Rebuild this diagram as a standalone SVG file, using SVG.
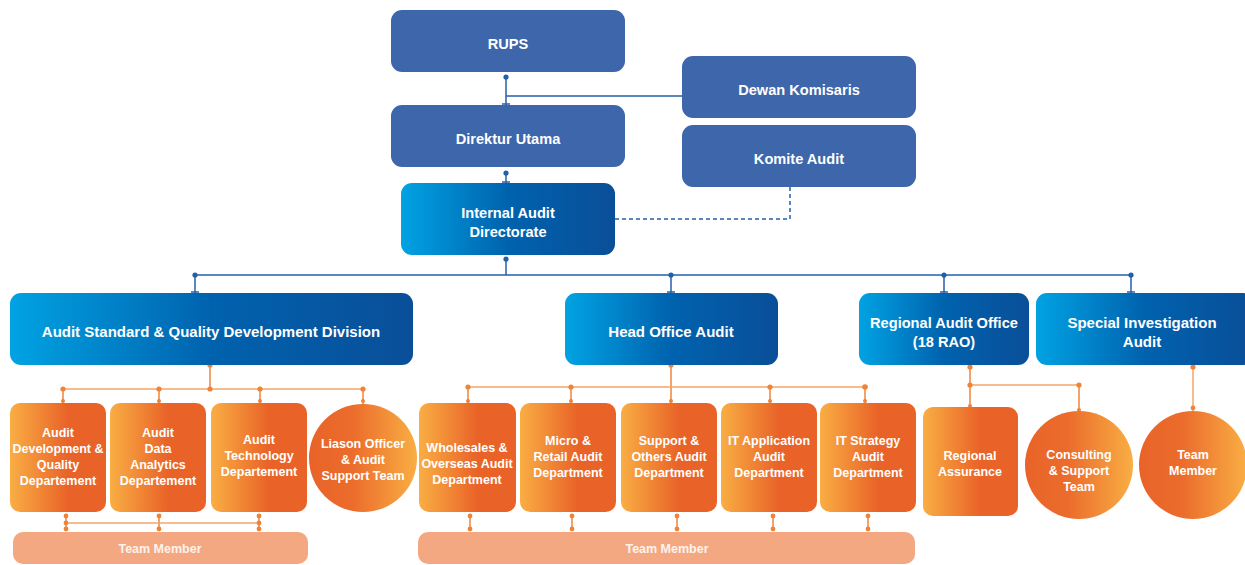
<svg xmlns="http://www.w3.org/2000/svg" width="1245" height="565" viewBox="0 0 1245 565">
<defs>
<linearGradient id="gBlue" x1="0" y1="0" x2="1" y2="0">
<stop offset="0" stop-color="#00A3E3"/><stop offset="0.5" stop-color="#0062AE"/><stop offset="1" stop-color="#0A4E98"/>
</linearGradient>
<linearGradient id="gOrg" x1="0" y1="0" x2="1" y2="0">
<stop offset="0" stop-color="#F9AE44"/><stop offset="0.6" stop-color="#E96328"/><stop offset="1" stop-color="#E96328"/>
</linearGradient>
<linearGradient id="gCirc" x1="0" y1="0" x2="1" y2="0">
<stop offset="0" stop-color="#E96328"/><stop offset="0.4" stop-color="#EB6C2C"/><stop offset="1" stop-color="#F9AE44"/>
</linearGradient>
<style>
.top{fill:#3E66AA}
.div{fill:url(#gBlue)}
.dep{fill:url(#gOrg)}
.cir{fill:url(#gCirc)}
.bar{fill:#F3A882}
text{font-family:"Liberation Sans",Arial,sans-serif;font-weight:bold;fill:#fff;text-anchor:middle}
.t14{font-size:14.6px}
.t15{font-size:15px}
.t12{font-size:12.5px}
.tb{font-size:12.5px;fill:#FDF3EC}
.bl{stroke:#235FA8;stroke-width:1.5;fill:none}
.or{stroke:#EF8438;stroke-width:1.5;fill:none}
.orl{stroke:#F5A566;stroke-width:1.5;fill:none}
.dash{stroke:#235FA8;stroke-width:1.5;fill:none;stroke-dasharray:4 3}
.bd{fill:#235FA8}
.od{fill:#EF8438}
</style>
</defs>

<g id="connectors">
<line class="bl" x1="506" y1="77" x2="506" y2="105"/>
<line class="bl" x1="506" y1="96" x2="682" y2="96"/>
<line class="bl" x1="502" y1="104" x2="510" y2="104"/>
<circle class="bd" cx="506" cy="77" r="2.6"/>
<line class="bl" x1="506" y1="173" x2="506" y2="183"/>
<line class="bl" x1="502" y1="182" x2="510" y2="182"/>
<circle class="bd" cx="506" cy="173" r="2.6"/>
<polyline class="dash" points="615,219 790,219 790,187"/>
<line class="bl" x1="506" y1="259" x2="506" y2="275"/>
<circle class="bd" cx="506" cy="259" r="2.6"/>
<line class="bl" x1="195" y1="275" x2="1131" y2="275"/>
<line class="bl" x1="195" y1="275" x2="195" y2="293"/>
<line class="bl" x1="671" y1="275" x2="671" y2="293"/>
<line class="bl" x1="944" y1="275" x2="944" y2="293"/>
<line class="bl" x1="1131" y1="275" x2="1131" y2="293"/>
<line class="bl" x1="191" y1="292" x2="199" y2="292"/>
<line class="bl" x1="667" y1="292" x2="675" y2="292"/>
<line class="bl" x1="940" y1="292" x2="948" y2="292"/>
<line class="bl" x1="1127" y1="292" x2="1135" y2="292"/>
<circle class="bd" cx="195" cy="275" r="2.6"/>
<circle class="bd" cx="671" cy="275" r="2.6"/>
<circle class="bd" cx="944" cy="275" r="2.6"/>
<circle class="bd" cx="1131" cy="275" r="2.6"/>

<line class="or" x1="210" y1="365" x2="210" y2="389"/>
<line class="orl" x1="63" y1="389" x2="363" y2="389"/>
<line class="or" x1="63" y1="389" x2="63" y2="403"/>
<line class="or" x1="159" y1="389" x2="159" y2="403"/>
<line class="or" x1="260" y1="389" x2="260" y2="403"/>
<line class="or" x1="363" y1="389" x2="363" y2="404"/>
<circle class="od" cx="210" cy="365" r="2.6"/><circle class="od" cx="210" cy="389" r="2.6"/>
<circle class="od" cx="63" cy="389" r="2.6"/><circle class="od" cx="159" cy="389" r="2.6"/>
<circle class="od" cx="260" cy="389" r="2.6"/><circle class="od" cx="363" cy="389" r="2.6"/>
<circle class="od" cx="63" cy="401" r="2"/><circle class="od" cx="159" cy="401" r="2"/>
<circle class="od" cx="260" cy="401" r="2"/><circle class="od" cx="363" cy="401" r="2"/>
<line class="or" x1="66" y1="516" x2="66" y2="530"/>
<line class="or" x1="159" y1="516" x2="159" y2="530"/>
<line class="or" x1="259" y1="516" x2="259" y2="530"/>
<line class="orl" x1="66" y1="523" x2="259" y2="523"/>
<circle class="od" cx="66" cy="516" r="2.4"/><circle class="od" cx="66" cy="523" r="2.4"/><circle class="od" cx="66" cy="529" r="2.4"/>
<circle class="od" cx="159" cy="516" r="2.4"/><circle class="od" cx="159" cy="529" r="2.4"/>
<circle class="od" cx="259" cy="516" r="2.4"/><circle class="od" cx="259" cy="523" r="2.4"/><circle class="od" cx="259" cy="529" r="2.4"/>

<line class="or" x1="671" y1="365" x2="671" y2="403"/>
<line class="orl" x1="468" y1="387" x2="865" y2="387"/>
<line class="or" x1="468" y1="387" x2="468" y2="403"/>
<line class="or" x1="571" y1="387" x2="571" y2="403"/>
<line class="or" x1="770" y1="387" x2="770" y2="403"/>
<line class="or" x1="865" y1="387" x2="865" y2="403"/>
<circle class="od" cx="671" cy="365" r="2.6"/>
<circle class="od" cx="468" cy="387" r="2.6"/><circle class="od" cx="571" cy="387" r="2.6"/>
<circle class="od" cx="770" cy="387" r="2.6"/><circle class="od" cx="865" cy="387" r="2.8"/>
<circle class="od" cx="468" cy="401" r="2"/><circle class="od" cx="571" cy="401" r="2"/>
<circle class="od" cx="671" cy="401" r="2"/><circle class="od" cx="770" cy="401" r="2"/><circle class="od" cx="865" cy="401" r="2"/>
<line class="or" x1="470" y1="516" x2="470" y2="530"/>
<line class="or" x1="572" y1="516" x2="572" y2="530"/>
<line class="or" x1="677" y1="516" x2="677" y2="530"/>
<line class="or" x1="773" y1="516" x2="773" y2="530"/>
<line class="or" x1="868" y1="516" x2="868" y2="530"/>
<circle class="od" cx="470" cy="516" r="2.4"/><circle class="od" cx="470" cy="529" r="2.4"/>
<circle class="od" cx="572" cy="516" r="2.4"/><circle class="od" cx="572" cy="529" r="2.4"/>
<circle class="od" cx="677" cy="516" r="2.4"/><circle class="od" cx="677" cy="529" r="2.4"/>
<circle class="od" cx="773" cy="516" r="2.4"/><circle class="od" cx="773" cy="529" r="2.4"/>
<circle class="od" cx="868" cy="516" r="2.4"/><circle class="od" cx="868" cy="529" r="2.4"/>

<line class="or" x1="970" y1="367" x2="970" y2="407"/>
<line class="orl" x1="970" y1="385" x2="1079" y2="385"/>
<line class="or" x1="1079" y1="385" x2="1079" y2="411"/>
<circle class="od" cx="970" cy="367" r="2.6"/><circle class="od" cx="970" cy="385" r="2.6"/>
<circle class="od" cx="1079" cy="385" r="2.6"/>
<circle class="od" cx="970" cy="406" r="2"/><circle class="od" cx="1079" cy="410" r="2"/>

<line class="orl" x1="1193" y1="367" x2="1193" y2="411"/>
<circle class="od" cx="1193" cy="367" r="2.6"/><circle class="od" cx="1193" cy="408" r="2.4"/>
</g>

<g id="rups"><rect class="top" x="391" y="10" width="234" height="62" rx="11"/><text class="t14" x="508" y="49">RUPS</text></g>
<g id="dewan-komisaris"><rect class="top" x="682" y="56" width="234" height="62" rx="11"/><text class="t14" x="799" y="95">Dewan Komisaris</text></g>
<g id="direktur-utama"><rect class="top" x="391" y="105" width="234" height="62" rx="11"/><text class="t14" x="508" y="144">Direktur Utama</text></g>
<g id="komite-audit"><rect class="top" x="682" y="125" width="234" height="62" rx="11"/><text class="t14" x="799" y="164">Komite Audit</text></g>
<g id="internal-audit-directorate"><rect class="div" x="401" y="183" width="214" height="72" rx="11"/><text class="t14" x="508" y="218">Internal Audit</text><text class="t14" x="508" y="237">Directorate</text></g>

<g id="audit-standard"><rect class="div" x="10" y="293" width="403" height="72" rx="11"/><text class="t15" x="211" y="337">Audit Standard &amp; Quality Development Division</text></g>
<g id="head-office-audit"><rect class="div" x="565" y="293" width="213" height="72" rx="11"/><text class="t15" x="671" y="337">Head Office Audit</text></g>
<g id="regional-audit-office"><rect class="div" x="859" y="293" width="170" height="72" rx="11"/><text class="t14" x="944" y="328">Regional Audit Office</text><text class="t14" x="944" y="347">(18 RAO)</text></g>
<g id="special-investigation"><rect class="div" x="1036" y="293" width="218" height="72" rx="11"/><text class="t15" x="1142" y="328">Special Investigation</text><text class="t15" x="1142" y="347">Audit</text></g>

<g id="audit-dev-quality"><rect class="dep" x="10" y="403" width="96" height="109" rx="10"/><text class="t12" x="58"><tspan x="58" y="437">Audit</tspan><tspan x="58" y="453">Development &amp;</tspan><tspan x="58" y="469">Quality</tspan><tspan x="58" y="485">Departement</tspan></text></g>
<g id="audit-data-analytics"><rect class="dep" x="110" y="403" width="96" height="109" rx="10"/><text class="t12" x="158"><tspan x="158" y="437">Audit</tspan><tspan x="158" y="453">Data</tspan><tspan x="158" y="469">Analytics</tspan><tspan x="158" y="485">Departement</tspan></text></g>
<g id="audit-technology"><rect class="dep" x="211" y="403" width="96" height="109" rx="10"/><text class="t12" x="259"><tspan x="259" y="444">Audit</tspan><tspan x="259" y="460">Technology</tspan><tspan x="259" y="476">Departement</tspan></text></g>
<g id="liason-officer"><circle class="cir" cx="363" cy="458" r="54"/><text class="t12" x="363"><tspan x="363" y="448">Liason Officer</tspan><tspan x="363" y="464">&amp; Audit</tspan><tspan x="363" y="480">Support Team</tspan></text></g>
<g id="team-member-1"><rect class="bar" x="13" y="532" width="295" height="32" rx="10"/><text class="tb" x="160" y="553">Team Member</text></g>

<g id="wholesales"><rect class="dep" x="419" y="403" width="97" height="109" rx="10"/><text class="t12" x="467"><tspan x="467" y="452">Wholesales &amp;</tspan><tspan x="467" y="468">Overseas Audit</tspan><tspan x="467" y="484">Department</tspan></text></g>
<g id="micro-retail"><rect class="dep" x="520" y="403" width="96" height="109" rx="10"/><text class="t12" x="568"><tspan x="568" y="445">Micro &amp;</tspan><tspan x="568" y="461">Retail Audit</tspan><tspan x="568" y="477">Department</tspan></text></g>
<g id="support-others"><rect class="dep" x="621" y="403" width="96" height="109" rx="10"/><text class="t12" x="669"><tspan x="669" y="445">Support &amp;</tspan><tspan x="669" y="461">Others Audit</tspan><tspan x="669" y="477">Department</tspan></text></g>
<g id="it-application"><rect class="dep" x="721" y="403" width="96" height="109" rx="10"/><text class="t12" x="769"><tspan x="769" y="445">IT Application</tspan><tspan x="769" y="461">Audit</tspan><tspan x="769" y="477">Department</tspan></text></g>
<g id="it-strategy"><rect class="dep" x="820" y="403" width="96" height="109" rx="10"/><text class="t12" x="868"><tspan x="868" y="445">IT Strategy</tspan><tspan x="868" y="461">Audit</tspan><tspan x="868" y="477">Department</tspan></text></g>
<g id="team-member-2"><rect class="bar" x="418" y="532" width="497" height="32" rx="10"/><text class="tb" x="667" y="553">Team Member</text></g>

<g id="regional-assurance"><rect class="dep" x="923" y="407" width="95" height="109" rx="10"/><text class="t12" x="970"><tspan x="970" y="460">Regional</tspan><tspan x="970" y="476">Assurance</tspan></text></g>
<g id="consulting-support"><circle class="cir" cx="1079" cy="465" r="54"/><text class="t12" x="1079"><tspan x="1079" y="459">Consulting</tspan><tspan x="1079" y="475">&amp; Support</tspan><tspan x="1079" y="491">Team</tspan></text></g>
<g id="team-member-3"><circle class="cir" cx="1193" cy="465" r="54"/><text class="t12" x="1193"><tspan x="1193" y="459">Team</tspan><tspan x="1193" y="475">Member</tspan></text></g>
</svg>
